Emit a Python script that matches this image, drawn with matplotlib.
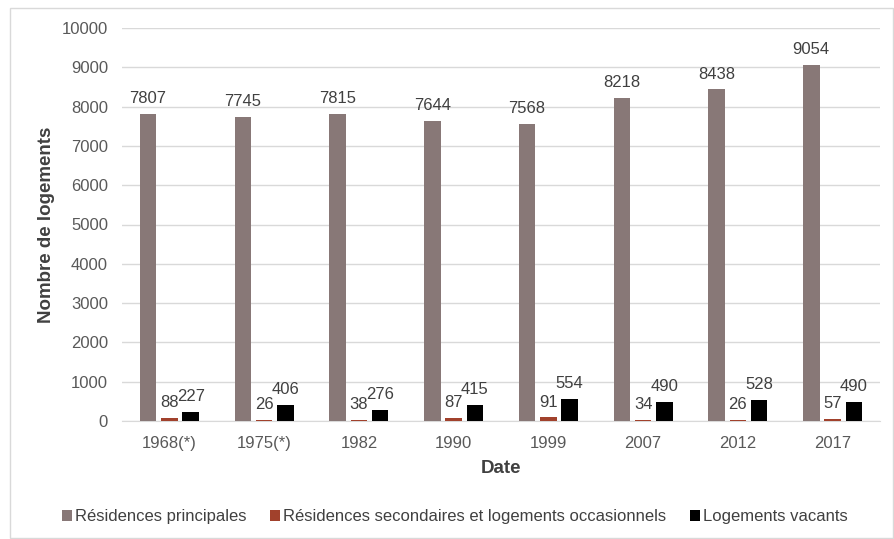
import matplotlib
matplotlib.use("Agg")
import matplotlib.pyplot as plt
import numpy as np
from matplotlib.patches import Rectangle

plt.rcParams['font.family'] = ['Liberation Sans', 'DejaVu Sans']

years = ["1968(*)", "1975(*)", "1982", "1990", "1999", "2007", "2012", "2017"]
principales = [7807, 7745, 7815, 7644, 7568, 8218, 8438, 9054]
secondaires = [88, 26, 38, 87, 91, 34, 26, 57]
vacants = [227, 406, 276, 415, 554, 490, 528, 490]

series = [
    ("Résidences principales", principales, "#887877"),
    ("Résidences secondaires et logements occasionnels", secondaires, "#A1412C"),
    ("Logements vacants", vacants, "#000000"),
]

fig = plt.figure(figsize=(8.94, 5.39), dpi=100)
fig.patches.append(Rectangle((10 / 894, 1 / 539), 883 / 894, 530 / 539,
                             transform=fig.transFigure, fill=False,
                             edgecolor="#D9D9D9", linewidth=1))
ax = fig.add_axes([122 / 894, 1 - 421 / 539, 758 / 894, 393 / 539])

x = np.arange(len(years))
width = 0.175
offsets = [-0.225, 0.0, 0.225]
text_color = "#404040"

for (name, vals, color), off in zip(series, offsets):
    bars = ax.bar(x + off, vals, width, color=color, label=name, zorder=3)
    for b, v in zip(bars, vals):
        ax.text(b.get_x() + b.get_width() / 2, v + 200, str(v),
                ha="center", va="bottom", fontsize=12, color=text_color, zorder=4)

ax.set_xlim(-0.5, len(years) - 0.5)
ax.set_ylim(0, 10000)
ax.set_yticks(np.arange(0, 10001, 1000))
ax.set_xticks(x)
ax.set_xticklabels(years)
ax.tick_params(axis="both", length=0, labelsize=12, colors="#595959")
ax.tick_params(axis="x", pad=11)
ax.tick_params(axis="y", pad=10)
ax.yaxis.grid(True, color="#D9D9D9", linewidth=1, zorder=0)
for side in ["top", "right", "left"]:
    ax.spines[side].set_visible(False)
ax.spines["bottom"].set_color("#D9D9D9")

ax.set_ylabel("Nombre de logements", fontsize=13.5, fontweight="bold", color=text_color)
ax.yaxis.set_label_coords(-(122 - 55) / 758, 0.5)
ax.set_xlabel("Date", fontsize=13.5, fontweight="bold", color=text_color)
ax.xaxis.set_label_coords(0.5, -(460 - 421) / 393)

fig.legend(loc="center", bbox_to_anchor=(455 / 894, 1 - 517 / 539), ncol=3, frameon=False,
           fontsize=12, labelcolor=text_color, handlelength=0.6, handleheight=0.6,
           handletextpad=0.2, columnspacing=1.4)

fig.savefig("out.png", dpi=100)
